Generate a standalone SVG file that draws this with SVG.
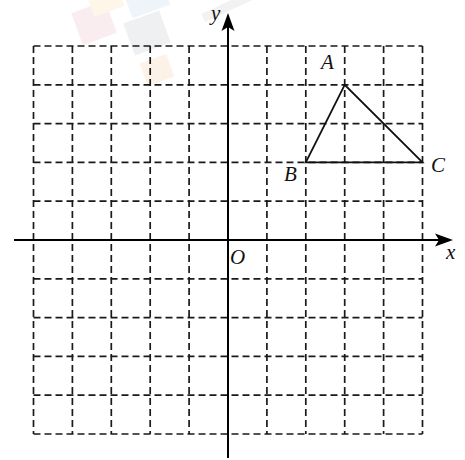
<svg xmlns="http://www.w3.org/2000/svg" width="465" height="460" viewBox="0 0 465 460">
<style>
.grid{stroke:#1a1a1a;stroke-width:1.7;stroke-dasharray:7 4;fill:none}
.axis{stroke:#000;stroke-width:2;fill:none}
.tri{stroke:#111;stroke-width:1.8;fill:none;stroke-linejoin:miter}
.lbl{font-family:"Liberation Serif","Times New Roman",serif;font-style:italic;font-size:21px;fill:#111}
</style>
<rect width="465" height="460" fill="#fff"/>
<g id="watermark" opacity="0.13">
<rect x="76" y="6" width="36" height="34" fill="#e07a8a" transform="rotate(-20 94 23)"/>
<rect x="90" y="-8" width="32" height="20" fill="#f0c060" transform="rotate(-20 106 2)"/>
<rect x="128" y="-8" width="40" height="20" fill="#8ab0e0" transform="rotate(-20 148 2)"/>
<rect x="128" y="16" width="38" height="34" fill="#8890a0" transform="rotate(-20 147 33)"/>
<rect x="143" y="58" width="28" height="24" fill="#f0a050" transform="rotate(-20 157 70)"/>
<rect x="200" y="0" width="65" height="9" fill="#a0a0a0" transform="rotate(-25 232 4)"/>
</g>
<g id="grid" class="grid">
<path d="M33.5 46V434M72.4 46V434M111.3 46V434M150.2 46V434M189.1 46V434M266.9 46V434M305.8 46V434M344.7 46V434M383.6 46V434M422.5 46V434"/>
<path d="M33.5 46H422.5M33.5 84.8H422.5M33.5 123.6H422.5M33.5 162.4H422.5M33.5 201.2H422.5M33.5 278.8H422.5M33.5 317.6H422.5M33.5 356.4H422.5M33.5 395.2H422.5M33.5 434H422.5"/>
</g>
<g id="axes">
<line class="axis" x1="14" y1="240" x2="440" y2="240"/>
<path d="M453 240L435 233.5L439 240L435 246.5Z" fill="#000"/>
<line class="axis" x1="228" y1="458" x2="228" y2="25"/>
<path d="M228 13L221.5 31L228 27L234.5 31Z" fill="#000"/>
</g>
<g id="triangle">
<path class="tri" d="M344.7 84.8L305.8 162.4H422.5Z"/>
</g>
<g id="labels">
<text class="lbl" x="211" y="20">y</text>
<text class="lbl" x="446" y="259">x</text>
<text class="lbl" x="230" y="264">O</text>
<text class="lbl" x="321" y="69">A</text>
<text class="lbl" x="284" y="181">B</text>
<text class="lbl" x="431" y="172">C</text>
</g>
</svg>
